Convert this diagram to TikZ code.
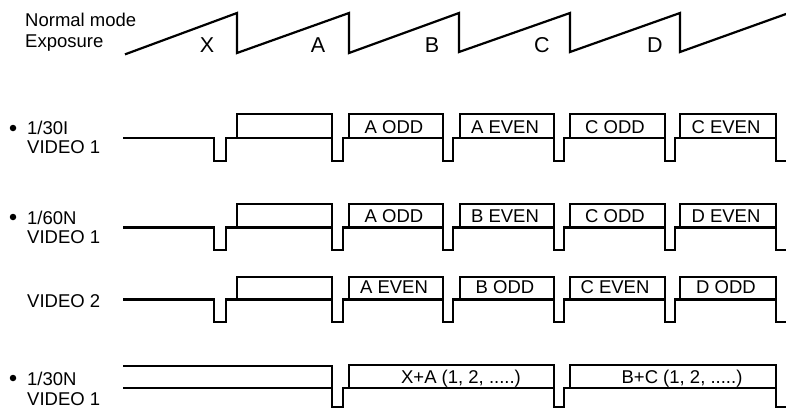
\documentclass[tikz,border=0pt]{standalone}
\usepackage{fontspec}
\setmainfont{Liberation Sans}
\begin{document}
\begin{tikzpicture}[x=1pt,y=-1pt,
  wave/.style={line width=2.2pt,line join=miter,line cap=rect},
  lbl/.style={anchor=base,inner sep=0pt,font=\fontsize{18.5}{22}\selectfont},
  biglbl/.style={anchor=base,inner sep=0pt,font=\fontsize{21.5}{25}\selectfont},
  rowlbl/.style={anchor=base west,inner sep=0pt,font=\fontsize{18.5}{22}\selectfont},
  dot/.style={circle,fill=black,inner sep=0pt,minimum size=6.5pt}]
\useasboundingbox (0,0) rectangle (786,409);
% header
\node[rowlbl] (nm) at (25,26.7) {Normal mode};
\node[rowlbl] (ex) at (25,47.7) {Exposure};
\draw[wave] (126,54) -- (237,13) -- (237,53) -- (349,13) -- (349,53) -- (459,13) -- (459,52)
  -- (570,13) -- (570,52) -- (680,13) -- (680,52) -- (786,14);
\foreach \n/\x in {X/207,A/318,B/432,C/542,D/655}
  \node[biglbl] (e\n) at (\x,53) {\n};
% rows 1-3
\foreach \r/\t/\b/\l in {1/114/138/161, 2/204/227.5/250, 3/277/299.5/322}{
  \draw[wave] (124,\b) -- (214,\b) -- (214,\l) -- (226,\l) -- (226,\b) -- (332,\b);
  \draw[wave] (237,\b) -- (237,\t) -- (332,\t) -- (332,\l) -- (343,\l) -- (343,\b) -- (443,\b);
  \draw[wave] (349,\b) -- (349,\t) -- (443,\t) -- (443,\l) -- (453,\l) -- (453,\b) -- (554,\b);
  \draw[wave] (460,\b) -- (460,\t) -- (554,\t) -- (554,\l) -- (564,\l) -- (564,\b) -- (665,\b);
  \draw[wave] (570,\b) -- (570,\t) -- (665,\t) -- (665,\l) -- (675,\l) -- (675,\b) -- (776,\b);
  \draw[wave] (680,\b) -- (680,\t) -- (776,\t) -- (776,\l) -- (790,\l);
}
% row labels
\node[dot] (d1) at (13,128) {};
\node[rowlbl] (r1a) at (27,135) {1/30I};
\node[rowlbl] (r1b) at (27,153.3) {VIDEO 1};
\node[dot] (d2) at (13,217) {};
\node[rowlbl] (r2a) at (27,224) {1/60N};
\node[rowlbl] (r2b) at (27,243.3) {VIDEO 1};
\node[rowlbl] (r3b) at (27,307) {VIDEO 2};
\node[dot] (d4) at (13,378) {};
\node[rowlbl] (r4a) at (27,385) {1/30N};
\node[rowlbl] (r4b) at (27,405) {VIDEO 1};
% box texts
\node[lbl] (t11) at (394,133) {A ODD};
\node[lbl] (t12) at (505,133) {A EVEN};
\node[lbl] (t13) at (615,133) {C ODD};
\node[lbl] (t14) at (726,133) {C EVEN};
\node[lbl] (t21) at (394,222) {A ODD};
\node[lbl] (t22) at (505,222) {B EVEN};
\node[lbl] (t23) at (615,222) {C ODD};
\node[lbl] (t24) at (726,222) {D EVEN};
\node[lbl] (t31) at (394,293.5) {A EVEN};
\node[lbl] (t32) at (505,293.5) {B ODD};
\node[lbl] (t33) at (615,293.5) {C EVEN};
\node[lbl] (t34) at (726,293.5) {D ODD};
% row 4
\draw[wave] (124,366) -- (332,366) -- (332,407);
\draw[wave] (124,388) -- (332,388);
\draw[wave] (332,407) -- (343,407) -- (343,388) -- (554,388);
\draw[wave] (349,388) -- (349,365) -- (554,365) -- (554,407) -- (564,407) -- (564,388) -- (776,388);
\draw[wave] (570,388) -- (570,365) -- (776,365) -- (776,407) -- (790,407);
\node[lbl] (t41) at (461,383.3) {X+A (1, 2, .....)};
\node[lbl] (t42) at (682,383.3) {B+C (1, 2, .....)};
\end{tikzpicture}
\end{document}
